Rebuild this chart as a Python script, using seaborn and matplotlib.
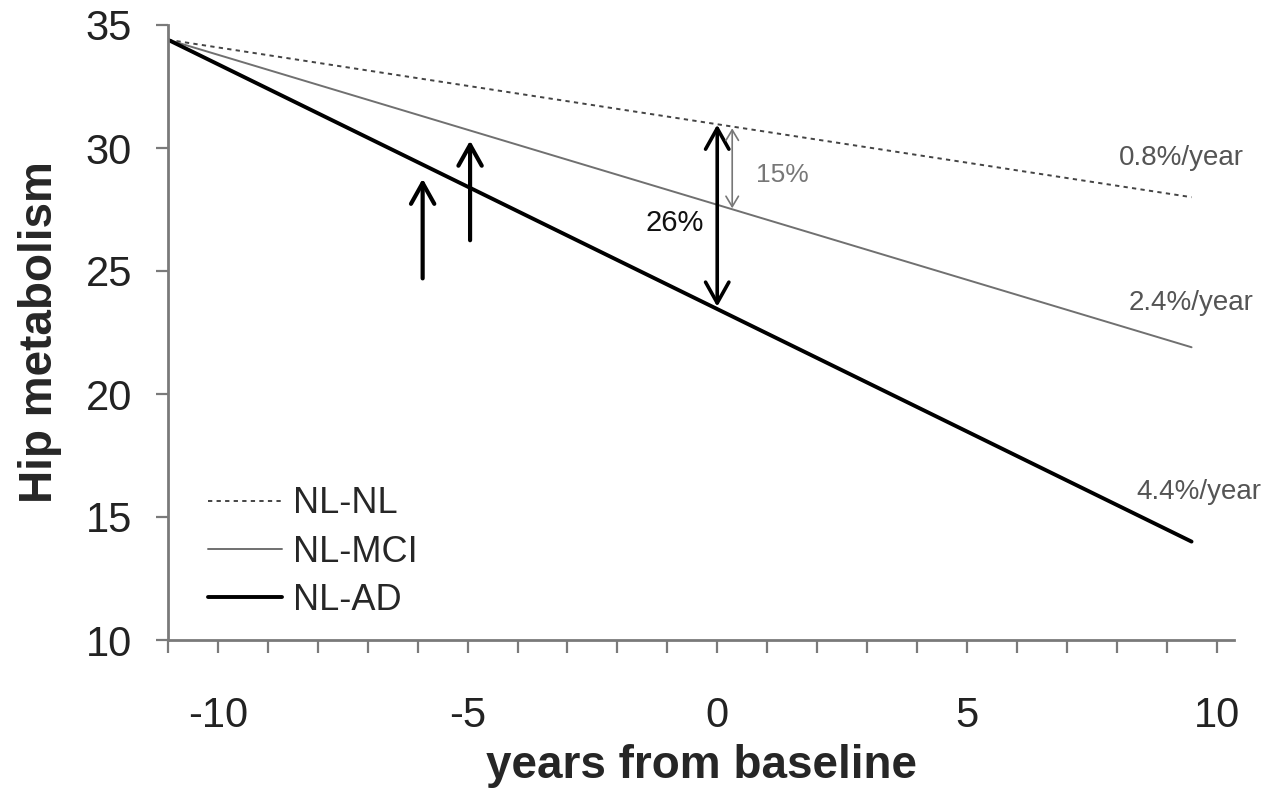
import matplotlib
matplotlib.use("Agg")
from matplotlib import pyplot as plt
from matplotlib.ticker import MultipleLocator
import pandas as pd
import seaborn as sns

# values
years = [-11, 9.5]
nl_nl = [34.4, 28.0]
nl_mci = [34.4, 21.9]
nl_ad = [34.4, 14.0]
groups = ['NL-NL', 'NL-MCI', 'NL-AD']
rates = ['0.8%/year', '2.4%/year', '4.4%/year']

# conversion arrows (x, bottom, top)
conv_x = [-5.9, -4.95]
conv_bottom = [24.7, 26.25]
conv_top = [28.75, 30.3]

df = pd.concat([
    pd.DataFrame({'years': years, 'hip': vals, 'group': g})
    for g, vals in zip(groups, [nl_nl, nl_mci, nl_ad])
])

sns.set_style('white')
plt.rcParams['font.family'] = ['Liberation Sans', 'DejaVu Sans']
plt.rcParams['axes.unicode_minus'] = False

fig = plt.figure(figsize=(12.86, 7.93), dpi=100)
ax = fig.add_axes([168 / 1286, 1 - 640 / 793, (1234 - 168) / 1286, (640 - 25) / 793])

sns.lineplot(data=df, x='years', y='hip', hue='group', style='group', size='group',
             palette={'NL-NL': '#444444', 'NL-MCI': '#707070', 'NL-AD': '#000000'},
             dashes={'NL-NL': (2.2, 2.2), 'NL-MCI': '', 'NL-AD': ''},
             sizes={'NL-NL': 1.4, 'NL-MCI': 1.4, 'NL-AD': 2.8},
             ax=ax)

ax.set_xlim(-11, 10.35)
ax.set_ylim(10, 35)
ax.xaxis.set_major_locator(MultipleLocator(5))
ax.xaxis.set_minor_locator(MultipleLocator(1))
ax.yaxis.set_major_locator(MultipleLocator(5))

for side in ['top', 'right']:
    ax.spines[side].set_visible(False)
for side in ['left', 'bottom']:
    ax.spines[side].set_color('#7a7a7a')
    ax.spines[side].set_linewidth(2)

ax.tick_params(axis='x', which='both', direction='out', length=9, width=1.6,
               color='#7a7a7a', bottom=True, pad=31, labelsize=30)
ax.tick_params(axis='y', which='major', direction='out', length=9, width=1.6,
               color='#7a7a7a', left=True, pad=17, labelsize=30)
for lbl in ax.get_xticklabels() + ax.get_yticklabels():
    lbl.set_color('#222222')

ax.set_xlabel('years from baseline', fontsize=33, fontweight='bold', labelpad=6)
ax.set_ylabel('Hip metabolism', fontsize=33, fontweight='bold', labelpad=17)

# legend
leg = ax.get_legend()
handles = leg.legend_handles
labels = [t.get_text() for t in leg.get_texts()]
leg.remove()
ax.legend(handles, labels, loc='center left', bbox_to_anchor=(0.024, 0.143),
          frameon=False, fontsize=26, handlelength=2.05, handletextpad=0.3,
          labelspacing=0.37, borderaxespad=0)

# rate labels at the line ends
rate_pos = [(9.3, 29.6), (9.5, 23.7), (9.65, 16.0)]
for txt, (x, y) in zip(rates, rate_pos):
    ax.text(x, y, txt, fontsize=20, color='#555555', ha='center', va='center')

# conversion arrows
for x, b, t in zip(conv_x, conv_bottom, conv_top):
    ax.annotate('', xy=(x, t), xytext=(x, b),
                arrowprops=dict(arrowstyle='->,head_length=0.75,head_width=0.42',
                                lw=3, color='black', shrinkA=0, shrinkB=0,
                                mutation_scale=20))

# difference at baseline
ax.annotate('', xy=(0, 30.95), xytext=(0, 23.55),
            arrowprops=dict(arrowstyle='<->,head_length=0.75,head_width=0.42',
                            lw=2.6, color='black', shrinkA=0, shrinkB=0,
                            mutation_scale=20))
ax.text(-0.85, 26.95, '26%', fontsize=21, color='#111111', ha='center', va='center')

ax.annotate('', xy=(0.3, 30.8), xytext=(0.3, 27.55),
            arrowprops=dict(arrowstyle='<->,head_length=0.5,head_width=0.3',
                            lw=1.2, color='#777777', shrinkA=0, shrinkB=0,
                            mutation_scale=15))
ax.text(1.3, 28.9, '15%', fontsize=19, color='#777777', ha='center', va='center')

fig.savefig('out.png', dpi=100)
